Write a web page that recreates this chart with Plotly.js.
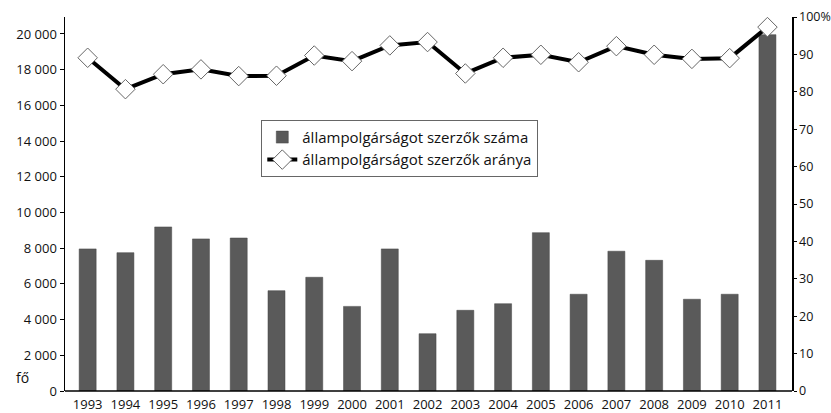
<!DOCTYPE html>
<html>
<head>
<meta charset="utf-8">
<script src="https://cdn.plot.ly/plotly-3.0.1.min.js"></script>
<style>html,body{margin:0;padding:0;background:#fff}#chart{width:831px;height:413px}</style>
</head>
<body>
<div id="chart"></div>
<script>
const years = ["1993","1994","1995","1996","1997","1998","1999","2000","2001","2002","2003","2004","2005","2006","2007","2008","2009","2010","2011"];
const szama = [7960, 7750, 9190, 8520, 8570, 5620, 6370, 4740, 7960, 3210, 4520, 4890, 8870, 5420, 7830, 7320, 5140, 5420, 19960];
const aranya = [89.1, 80.7, 84.7, 86.0, 84.2, 84.3, 89.7, 88.2, 92.4, 93.3, 84.9, 89.1, 89.9, 87.9, 92.2, 89.9, 88.8, 89.0, 97.3];
const leftTicks = [0, 2000, 4000, 6000, 8000, 10000, 12000, 14000, 16000, 18000, 20000];
const rightTicks = [0, 10, 20, 30, 40, 50, 60, 70, 80, 90, 100];
const rightTickText = ["0","10","20","30","40","50","60","70","80","90","100%"];
const nameBar = "állampolgárságot szerzők száma";
const nameLine = "állampolgárságot szerzők aránya";

const fam = "Open Sans, Lato, sans-serif";
const font = {family: fam, size: 13, color: "#111"};

const traces = [
  {type: "bar", x: years, y: szama, name: nameBar, width: 0.45,
   marker: {color: "#5a5a5a", line: {color: "#444", width: 0.5}}, yaxis: "y"},
  {type: "scatter", mode: "lines+markers", x: years, y: aranya, name: nameLine, yaxis: "y2",
   line: {color: "#000", width: 4},
   marker: {symbol: "diamond", size: 15, color: "#fff", line: {color: "#666", width: 1}}}
];

const layout = {
  width: 831, height: 413,
  margin: {l: 65, r: 39, t: 17, b: 22},
  paper_bgcolor: "#fff", plot_bgcolor: "#fff",
  separators: ", ",
  font: font,
  showlegend: true,
  legend: {x: 0.27, y: 0.725, xanchor: "left", yanchor: "top",
    bordercolor: "#666", borderwidth: 1, bgcolor: "#fff",
    font: {family: fam, size: 15, color: "#111"},
    tracegroupgap: 0},
  xaxis: {type: "category", range: [-0.6, 18.65], showgrid: false, zeroline: false,
    showline: false, ticks: "", ticklabelstandoff: 4, tickfont: {family: fam, size: 13, color: "#111"}},
  yaxis: {range: [0, 20950], tickvals: leftTicks, tickformat: ",.0f", showgrid: false,
    zeroline: false, showline: true, linecolor: "#000", linewidth: 1.5, ticks: "outside",
    ticklen: 4, tickcolor: "#000", tickfont: font},
  yaxis2: {overlaying: "y", side: "right", range: [0, 100], tickvals: rightTicks, ticktext: rightTickText,
    showgrid: false, zeroline: false, showline: true, linecolor: "#000", linewidth: 1.5,
    ticks: "outside", ticklen: 3, tickcolor: "#000", tickfont: {family: fam, size: 12.5, color: "#111"}},
  shapes: [{type: "line", xref: "paper", yref: "paper", x0: 0, x1: 1, y0: 0, y1: 0,
    line: {color: "#000", width: 1.5}}],
  annotations: [{text: "fő", xref: "paper", yref: "paper", x: -0.058, y: 0.035,
    xanchor: "center", yanchor: "middle", showarrow: false, font: {family: fam, size: 14, color: "#111"}}]
};

Plotly.newPlot("chart", traces, layout, {displayModeBar: false, staticPlot: true});
</script>
</body>
</html>
